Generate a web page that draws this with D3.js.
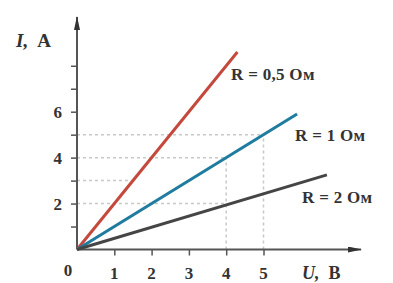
<!DOCTYPE html>
<html>
<head>
<meta charset="utf-8">
<script src="https://cdn.jsdelivr.net/npm/d3@7"></script>
<style>
  body { margin: 0; background: #fff; }
  svg { display: block; }
  .lbl { font-family: "Liberation Serif", "DejaVu Serif", serif; font-weight: bold; fill: #333; }
</style>
</head>
<body>
<div id="chart"></div>
<script>
// series: start and end of each straight line
const seriesNames = ["R = 0,5 Ом", "R = 1 Ом", "R = 2 Ом"];
const seriesColors = ["#c4493c", "#1f7c9e", "#454545"];
const seriesU = [[0, 4.3], [0, 5.9], [0, 6.7]];
const seriesI = [[0, 8.6], [0, 5.9], [0, 3.25]];

// dashed helper lines
const guideI = [2, 3, 4, 5];
const guideIEndU = [4, 1.5, 4, 5];
const guideU = [4, 5];
const guideUEndI = [4, 5];

const xTicks = [1, 2, 3, 4, 5];
const yTicks = [1, 2, 3, 4, 5, 6, 7, 8];
const yTickLabels = [2, 4, 6];

const width = 393, height = 283;

const svg = d3.select("#chart").append("svg")
    .attr("width", width)
    .attr("height", height);

const x = d3.scaleLinear().domain([0, 5]).range([77, 263.5]);
const y = d3.scaleLinear().domain([0, 6]).range([249.5, 111.7]);

// arrow heads
const defs = svg.append("defs");
defs.append("marker")
    .attr("id", "arrow")
    .attr("viewBox", "0 0 14 6")
    .attr("refX", 13).attr("refY", 3)
    .attr("markerWidth", 14).attr("markerHeight", 6)
    .attr("markerUnits", "userSpaceOnUse")
    .attr("orient", "auto")
  .append("path")
    .attr("d", "M0,0 L14,3 L0,6 Z")
    .attr("fill", "#333");

// dashed guides
svg.append("g").selectAll("line")
    .data(guideI)
  .enter().append("line")
    .attr("x1", x(0))
    .attr("x2", (d, i) => x(guideIEndU[i]))
    .attr("y1", d => y(d))
    .attr("y2", d => y(d))
    .attr("stroke", "#c8c8c8")
    .attr("stroke-width", 1.5)
    .attr("stroke-dasharray", "3,3");

svg.append("g").selectAll("line")
    .data(guideU)
  .enter().append("line")
    .attr("x1", d => x(d))
    .attr("x2", d => x(d))
    .attr("y1", y(0))
    .attr("y2", (d, i) => y(guideUEndI[i]))
    .attr("stroke", "#c8c8c8")
    .attr("stroke-width", 1.5)
    .attr("stroke-dasharray", "3,3");

// x axis
const xAxis = svg.append("g")
    .attr("transform", "translate(0," + y(0) + ")")
    .call(d3.axisBottom(x).tickValues(xTicks).tickSize(6).tickFormat(""));
xAxis.select(".domain").remove();
xAxis.selectAll(".tick line").attr("stroke", "#555").attr("stroke-width", 1.5);

// y axis
const yAxis = svg.append("g")
    .attr("transform", "translate(" + x(0) + ",0)")
    .call(d3.axisLeft(y).tickValues(yTicks).tickSize(6).tickFormat(""));
yAxis.select(".domain").remove();
yAxis.selectAll(".tick line").attr("stroke", "#555").attr("stroke-width", 1.5);

svg.append("line")
    .attr("x1", x(0)).attr("y1", y(0))
    .attr("x2", 361).attr("y2", y(0))
    .attr("stroke", "#555").attr("stroke-width", 2)
    .attr("marker-end", "url(#arrow)");

svg.append("line")
    .attr("x1", x(0)).attr("y1", y(0))
    .attr("x2", x(0)).attr("y2", 17)
    .attr("stroke", "#555").attr("stroke-width", 2)
    .attr("marker-end", "url(#arrow)");

// tick labels
svg.append("g").selectAll("text")
    .data(xTicks)
  .enter().append("text")
    .attr("class", "lbl")
    .attr("x", d => x(d))
    .attr("y", 279)
    .attr("text-anchor", "middle")
    .attr("font-size", 17)
    .text(d => d);

svg.append("g").selectAll("text")
    .data(yTickLabels)
  .enter().append("text")
    .attr("class", "lbl")
    .attr("x", 62)
    .attr("y", d => y(d))
    .attr("dy", "0.35em")
    .attr("text-anchor", "end")
    .attr("font-size", 17)
    .text(d => d);

svg.append("text")
    .attr("class", "lbl")
    .attr("x", 68).attr("y", 276)
    .attr("text-anchor", "middle")
    .attr("font-size", 17)
    .text("0");

// axis titles
const yTitle = svg.append("text")
    .attr("class", "lbl")
    .attr("x", 16).attr("y", 47)
    .attr("font-size", 19);
yTitle.append("tspan").attr("font-style", "italic").text("I,");
yTitle.append("tspan").attr("dx", 9).text("A");

const xTitle = svg.append("text")
    .attr("class", "lbl")
    .attr("x", 302).attr("y", 279)
    .attr("font-size", 18);
xTitle.append("tspan").attr("font-style", "italic").text("U,");
xTitle.append("tspan").attr("dx", 9).text("B");

// lines
const line = d3.line()
    .x(d => x(d[0]))
    .y(d => y(d[1]));

svg.append("g").selectAll("path")
    .data(seriesNames.map((n, i) => seriesU[i].map((u, j) => [u, seriesI[i][j]])))
  .enter().append("path")
    .attr("d", line)
    .attr("fill", "none")
    .attr("stroke", (d, i) => seriesColors[i])
    .attr("stroke-width", 3);

// series labels
const labelPos = [[231, 74], [295, 135], [302, 197]];
svg.append("g").selectAll("text")
    .data(seriesNames)
  .enter().append("text")
    .attr("class", "lbl")
    .attr("x", (d, i) => labelPos[i][0])
    .attr("y", (d, i) => labelPos[i][1])
    .attr("dy", "0.35em")
    .attr("font-size", 17)
    .attr("letter-spacing", 0.3)
    .text(d => d);
</script>
</body>
</html>
